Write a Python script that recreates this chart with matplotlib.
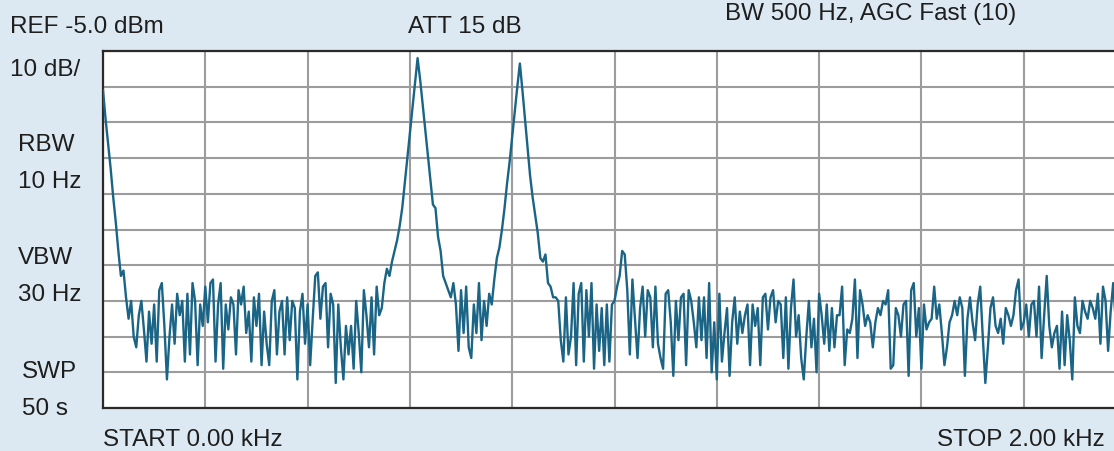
import numpy as np
import matplotlib
matplotlib.use("Agg")
import matplotlib.pyplot as plt

plt.rcParams['font.family'] = ['Liberation Sans', 'DejaVu Sans']

# ---- instrument settings ----
start_khz = 0.0
stop_khz = 2.0
ref_dbm = -5.0
db_per_div = 10
n_div_x = 10
n_div_y = 10

# ---- labels ----
side_labels = ["10 dB/", "RBW", "10 Hz", "VBW", "30 Hz", "SWP", "50 s"]
top_labels = ["REF -5.0 dBm", "ATT 15 dB", "BW 500 Hz, AGC Fast (10)"]
bottom_labels = ["START 0.00 kHz", "STOP 2.00 kHz"]

# ---- measured trace (dBm), evenly swept from start to stop ----
trace_dbm = [
    -16, -24, -31, -38, -46, -53, -61, -68, -66.5,
    -74, -80, -75, -85, -88, -79, -75, -83, -92, -78,
    -87, -76, -92, -72, -70, -82, -97, -85, -76, -87,
    -73, -79, -75, -92, -73, -90, -70, -75, -93, -76,
    -82, -71, -81, -70, -69, -92, -76, -70, -94, -76,
    -83, -74, -76, -90, -72, -76, -71, -84, -78, -92,
    -74, -82, -73, -93, -78, -87, -93, -75, -72, -90,
    -78, -75, -90, -74, -86, -75, -77, -97, -78,
    -73, -87, -76, -93, -80, -68, -67, -80, -71, -70,
    -88, -73, -76, -98, -76, -88, -97, -82, -90, -82,
    -94, -75, -84, -95, -72, -79, -88, -74, -90, -71,
    -79, -77, -70,
    -66, -68, -64, -61, -58, -54, -49, -42, -35, -28,
    -21, -14, -7, -13, -20, -27, -34, -41, -48, -49,
    -57, -61, -68, -70, -72, -74,
    -70, -76, -89, -72, -84, -71, -88, -91, -76, -84,
    -70, -86, -75, -82, -73, -76,
    -69, -63, -60, -55, -49, -42, -36, -29, -22, -15,
    -8.5, -16, -24, -32, -40, -46, -51, -56, -63, -64,
    -62, -70, -71, -74,
    -74, -75, -86, -92, -74, -90, -85, -70, -93, -73,
    -70, -92, -72, -85, -70, -94, -76, -89, -77, -93,
    -76, -92, -76, -75,
    -71, -68, -61, -62, -72, -90, -69,
    -80, -91, -77, -71, -85, -72, -74, -88, -71, -87,
    -91, -94, -73, -72, -81, -96, -75, -86, -74, -73,
    -93, -72,
    -75, -81, -88, -74, -86, -74, -91, -70, -95, -81,
    -97, -73, -92, -84, -77, -96, -81, -74, -87, -78,
    -84, -79, -76, -93, -76, -82, -77, -93, -74, -73,
    -83, -74, -72, -81, -75, -76, -91, -74, -94, -77,
    -69, -85, -79, -91, -97, -85, -75, -88, -80, -95,
    -73, -79, -87, -76, -89, -77,
    -88, -79, -79, -71, -93, -83, -84, -80, -69, -91,
    -72, -76, -82, -79, -81, -88, -81, -77, -79, -75,
    -76, -72, -94, -93, -77, -79, -85, -76, -75, -96,
    -72, -70, -85, -77, -94, -76, -83, -81, -80, -71,
    -80, -76, -84, -93, -88, -81, -79, -75, -79, -74,
    -77, -96, -80, -74, -81, -86,
    -76, -71, -85, -98, -88, -77, -74, -82, -84, -80,
    -87, -77, -79, -82, -79, -72, -69, -83, -81, -76,
    -85, -76, -75, -85, -71, -91, -79, -68, -82, -88,
    -84, -82, -94, -78, -93, -79, -86, -97, -74, -82,
    -84, -75, -78, -80, -75, -77, -80, -73, -87, -71,
    -75, -89, -78, -70, -81, -74, -86, -77, -79,
]

freq_khz = np.linspace(start_khz, stop_khz, len(trace_dbm))

W, H = 1114, 452
BG = '#dde9f2'
TRACE = '#1a6486'
TXT = '#1e1e1e'
FS = 17.5

fig = plt.figure(figsize=(W / 100, H / 100), dpi=100, facecolor=BG)
ax = fig.add_axes([103 / W, 43 / H, 1023 / W, 357 / H])
ax.set_facecolor('white')

ax.plot(freq_khz, trace_dbm, color=TRACE, lw=1.7, zorder=3)

ax.set_xlim(start_khz, stop_khz)
ax.set_ylim(ref_dbm - db_per_div * n_div_y, ref_dbm)
ax.set_xticks(np.linspace(start_khz, stop_khz, n_div_x + 1))
ax.set_yticks(np.arange(ref_dbm - db_per_div * n_div_y, ref_dbm + 1, db_per_div))
ax.grid(True, color='#9c9c9c', lw=1.5)
ax.tick_params(length=0, labelbottom=False, labelleft=False)
for s in ['top', 'left', 'bottom']:
    ax.spines[s].set_color('#2a2a2a')
    ax.spines[s].set_linewidth(1.6)
ax.spines['right'].set_visible(False)


def put(x, y, s, ha='left'):
    fig.text(x / W, 1 - y / H, s, ha=ha, va='center', fontsize=FS, color=TXT)


put(10, 27, top_labels[0])
put(408, 27, top_labels[1])
put(725, 14, top_labels[2])
put(10, 70, side_labels[0])
put(18, 145, side_labels[1])
put(18, 182, side_labels[2])
put(18, 258, side_labels[3])
put(18, 295, side_labels[4])
put(22, 372, side_labels[5])
put(22, 409, side_labels[6])
put(103, 440, bottom_labels[0])
put(937, 440, bottom_labels[1])

fig.savefig('out.png', dpi=100, facecolor=BG)
